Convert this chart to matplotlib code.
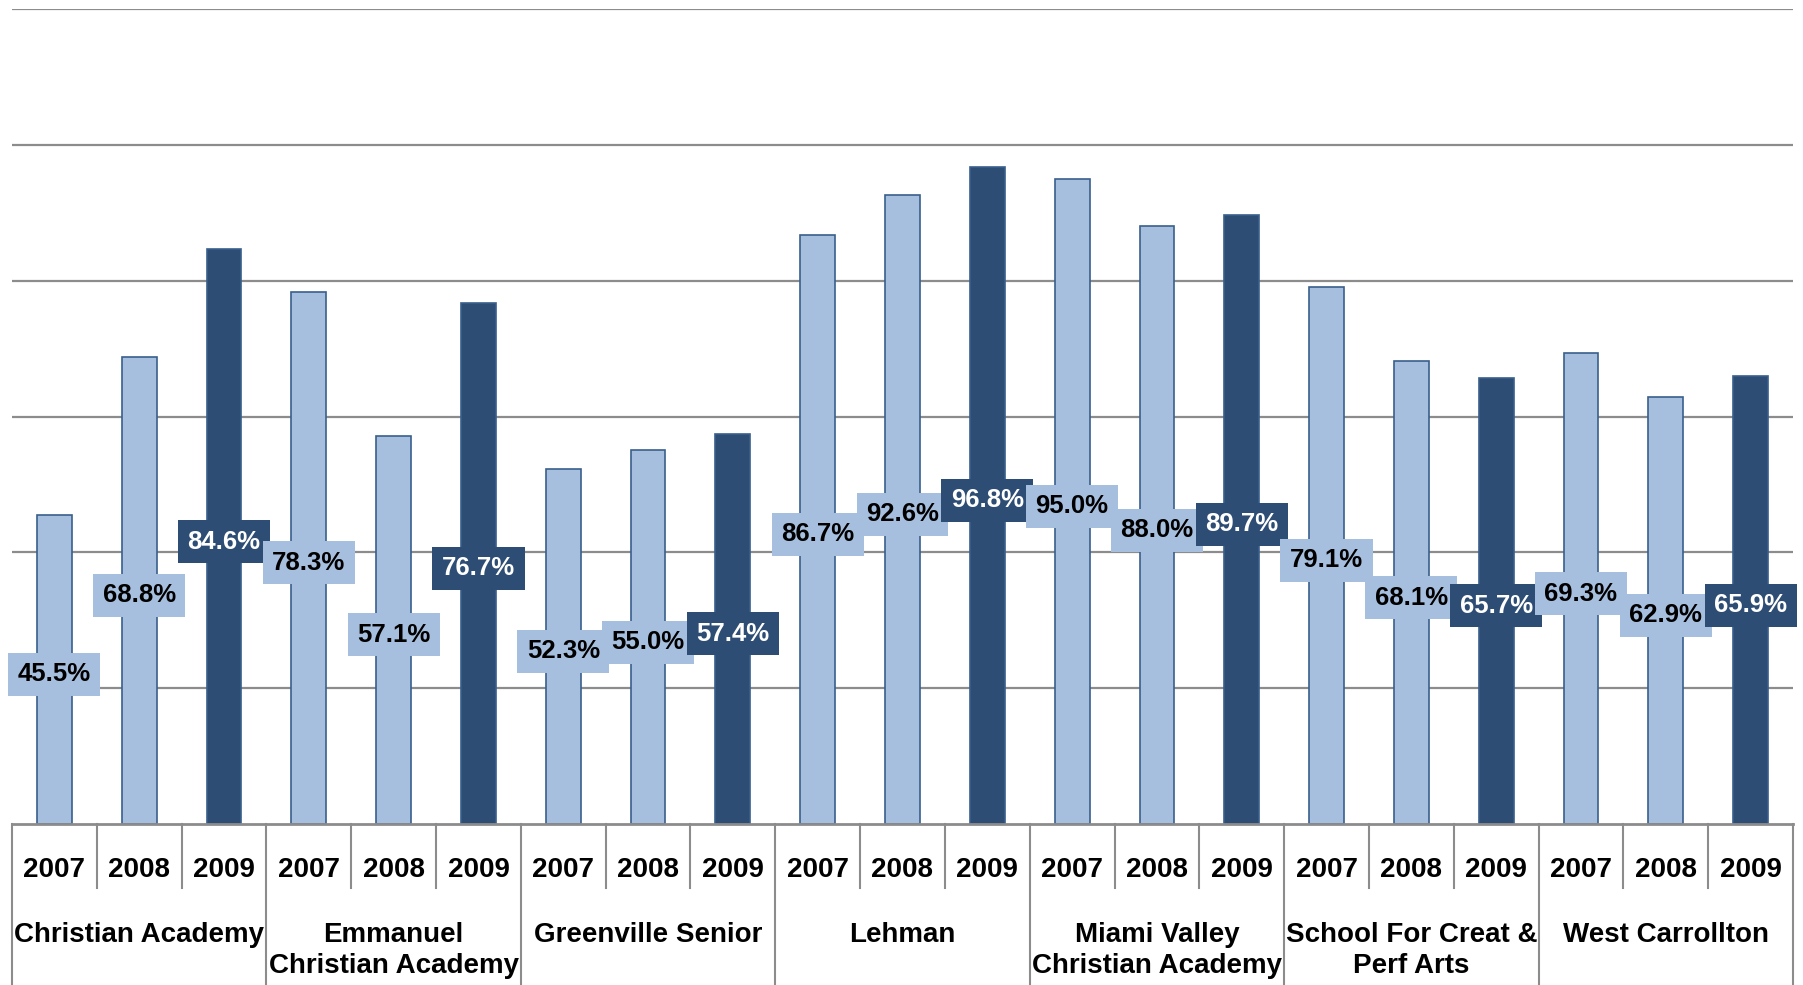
import matplotlib
matplotlib.use("Agg")
import matplotlib.pyplot as plt
import matplotlib.transforms as mtransforms

plt.rcParams['font.family'] = ['Liberation Sans', 'DejaVu Sans']

schools = ["Christian Academy", "Emmanuel\nChristian Academy", "Greenville Senior",
           "Lehman", "Miami Valley\nChristian Academy", "School For Creat &\nPerf Arts",
           "West Carrollton"]
years = ["2007", "2008", "2009"]
values = {
    "Christian Academy": [45.5, 68.8, 84.6],
    "Emmanuel\nChristian Academy": [78.3, 57.1, 76.7],
    "Greenville Senior": [52.3, 55.0, 57.4],
    "Lehman": [86.7, 92.6, 96.8],
    "Miami Valley\nChristian Academy": [95.0, 88.0, 89.7],
    "School For Creat &\nPerf Arts": [79.1, 68.1, 65.7],
    "West Carrollton": [69.3, 62.9, 65.9],
}

LIGHT = '#A7BFDE'
DARK = '#2E4D74'
EDGE = '#3A5F8C'
GRID = '#8C8C8C'

W, H = 1803, 985
fig = plt.figure(figsize=(W / 100, H / 100), dpi=100)
left, right, top, bottom = 12, 1793, 9, 824
ax = fig.add_axes([left / W, (H - bottom) / H, (right - left) / W, (bottom - top) / H])
ax.set_xlim(-0.5, len(schools) * len(years) - 0.5)
ax.set_ylim(0, 120)
for s in ax.spines.values():
    s.set_visible(False)
ax.set_xticks([])
ax.set_yticks([])

for g in range(20, 121, 20):
    ax.axhline(g, color=GRID, lw=1.6, zorder=0)

axh = bottom - top
def ay(px):
    return -(px - bottom) / axh

idx = 0
for s in schools:
    for j, y in enumerate(years):
        v = values[s][j]
        col = DARK if j == 2 else LIGHT
        ax.bar(idx, v, width=0.41, color=col, edgecolor=EDGE, linewidth=1.2, zorder=2)
        idx += 1

idx = 0
for s in schools:
    for j, y in enumerate(years):
        v = values[s][j]
        col = DARK if j == 2 else LIGHT
        tc = 'white' if j == 2 else 'black'
        ax.annotate(f"{v:.1f}%", xy=(idx, v / 2), xytext=(0, -3.5), textcoords='offset points',
                    ha='center', va='center', fontsize=18.5,
                    fontweight='bold', color=tc, zorder=5,
                    bbox=dict(boxstyle='square,pad=0.37', facecolor=col, edgecolor='none'))
        idx += 1

trans = mtransforms.blended_transform_factory(ax.transData, ax.transAxes)
# category axis
ax.plot([-0.5, 20.5], [0, 0], transform=trans, color=GRID, lw=2.0, clip_on=False, zorder=3)
n = len(schools) * len(years)
for k in range(n + 1):
    x = k - 0.5
    y1 = ay(985) if k % 3 == 0 else ay(888)
    ax.plot([x, x], [0, y1], transform=trans, color=GRID, lw=1.5, clip_on=False)

idx = 0
for gi, s in enumerate(schools):
    for j, y in enumerate(years):
        ax.text(idx, ay(877), y, transform=trans, ha='center', va='baseline',
                fontsize=20, fontweight='bold')
        idx += 1
    lines = s.split("\n")
    cx = gi * 3 + 1
    for li, line in enumerate(lines):
        ax.text(cx, ay(942 + 31 * li), line, transform=trans, ha='center', va='baseline',
                fontsize=20, fontweight='bold')

fig.savefig("out.png", dpi=100)
